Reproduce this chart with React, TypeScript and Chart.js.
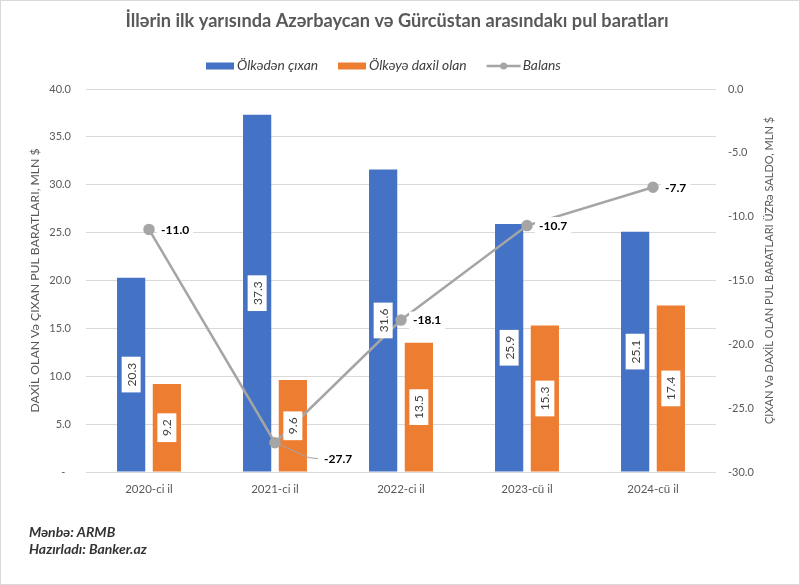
import { useEffect, useRef } from "react";
import { Chart, registerables } from "chart.js";

Chart.register(...registerables);

const categories = ["2020-ci il", "2021-ci il", "2022-ci il", "2023-cü il", "2024-cü il"];
const outgoing = [20.3, 37.3, 31.6, 25.9, 25.1];
const incoming = [9.2, 9.6, 13.5, 15.3, 17.4];
const balance = [-11.0, -27.7, -18.1, -10.7, -7.7];
const seriesNames = ["Ölkədən çıxan", "Ölkəyə daxil olan", "Balans"];

const TITLE = "İllərin ilk yarısında Azərbaycan və Gürcüstan arasındakı pul baratları";
const LEFT_AXIS_TITLE = "DAXİL OLAN Və ÇIXAN PUL BARATLARI, MLN $";
const RIGHT_AXIS_TITLE = "ÇIXAN Və DAXİL OLAN PUL BARATLARI ÜZRə SALDO, MLN $";
const SOURCE_LINES = ["Mənbə: ARMB", "Hazırladı: Banker.az"];

const BLUE = "#4472C4";
const ORANGE = "#ED7D31";
const GRAY = "#A5A5A5";
const TEXT = "#595959";
const FONT = "Lato, 'Open Sans', sans-serif";

const decor = {
  id: "decor",
  beforeDraw(chart: any) {
    const { ctx, width, height } = chart;
    ctx.save();
    ctx.fillStyle = "#ffffff";
    ctx.fillRect(0, 0, width, height);
    ctx.restore();
  },
  afterDatasetsDraw(chart: any) {
    const { ctx } = chart;
    // bar labels
    [0, 1].forEach((di) => {
      const meta = chart.getDatasetMeta(di);
      const data = chart.data.datasets[di].data;
      meta.data.forEach((el: any, i: number) => {
        const text = Number(data[i]).toFixed(1);
        const cx = el.x;
        const cy = (el.y + el.base) / 2;
        ctx.save();
        ctx.translate(cx, cy);
        ctx.rotate(-Math.PI / 2);
        ctx.font = `12px ${FONT}`;
        const w = ctx.measureText(text).width + 12;
        const h = 19;
        ctx.fillStyle = "#ffffff";
        ctx.fillRect(-w / 2, -h / 2, w, h);
        ctx.fillStyle = "#404040";
        ctx.textAlign = "center";
        ctx.textBaseline = "middle";
        ctx.fillText(text, 0, 0.5);
        ctx.restore();
      });
    });
    // line labels
    const lmeta = chart.getDatasetMeta(2);
    const ldata = chart.data.datasets[2].data;
    lmeta.data.forEach((el: any, i: number) => {
      const text = Number(ldata[i]).toFixed(1);
      let tx = el.x + 12;
      let ty = el.y + 0.5;
      ctx.save();
      if (i === 1) {
        tx = el.x + 49;
        ty = el.y + 16;
        ctx.strokeStyle = GRAY;
        ctx.lineWidth = 1;
        ctx.beginPath();
        ctx.moveTo(el.x, el.y);
        ctx.lineTo(el.x + 34, el.y + 15);
        ctx.lineTo(el.x + 43, el.y + 16);
        ctx.stroke();
      }
      ctx.font = `bold 12px ${FONT}`;
      const w = ctx.measureText(text).width;
      ctx.fillStyle = "#ffffff";
      ctx.fillRect(tx - 4, ty - 9, w + 8, 18);
      ctx.fillStyle = "#000000";
      ctx.textAlign = "left";
      ctx.textBaseline = "middle";
      ctx.fillText(text, tx, ty);
      ctx.restore();
    });
  },
  afterDraw(chart: any) {
    const { ctx, width, height, chartArea } = chart;
    ctx.save();
    // title
    ctx.fillStyle = TEXT;
    ctx.font = `bold 18.2px ${FONT}`;
    ctx.textAlign = "center";
    ctx.textBaseline = "middle";
    ctx.fillText(TITLE, 397, 21);

    // legend
    const ds = chart.data.datasets;
    ctx.font = `italic 13.8px ${FONT}`;
    ctx.textAlign = "left";
    const ly = 66;
    let x = 206;
    [0, 1].forEach((di) => {
      ctx.fillStyle = ds[di].backgroundColor;
      ctx.fillRect(x, ly - 3.5, 28, 7);
      x += 31;
      ctx.fillStyle = "#404040";
      ctx.fillText(ds[di].label, x, ly);
      x += ctx.measureText(ds[di].label).width + 20;
    });
    ctx.strokeStyle = GRAY;
    ctx.lineWidth = 2.5;
    ctx.beginPath();
    ctx.moveTo(x, ly);
    ctx.lineTo(x + 34, ly);
    ctx.stroke();
    ctx.fillStyle = GRAY;
    ctx.beginPath();
    ctx.arc(x + 17, ly, 3.5, 0, Math.PI * 2);
    ctx.fill();
    ctx.fillStyle = "#404040";
    ctx.fillText(ds[2].label, x + 36, ly);

    // axis titles
    ctx.fillStyle = TEXT;
    ctx.textAlign = "center";
    ctx.textBaseline = "middle";
    const midY = (chartArea.top + chartArea.bottom) / 2;
    ctx.save();
    ctx.font = `12.2px ${FONT}`;
    ctx.translate(35, midY);
    ctx.rotate(-Math.PI / 2);
    ctx.fillText(LEFT_AXIS_TITLE, 0, 0);
    ctx.restore();
    ctx.save();
    ctx.font = `11px ${FONT}`;
    ctx.translate(769, midY - 10);
    ctx.rotate(-Math.PI / 2);
    ctx.fillText(RIGHT_AXIS_TITLE, 0, 0);
    ctx.restore();

    // source
    ctx.fillStyle = "#333333";
    ctx.font = `italic bold 14px ${FONT}`;
    ctx.textAlign = "left";
    ctx.fillText(SOURCE_LINES[0], 29, 532);
    ctx.fillText(SOURCE_LINES[1], 29, 549);

    // border
    ctx.strokeStyle = "#d9d9d9";
    ctx.lineWidth = 1;
    ctx.strokeRect(0.5, 0.5, width - 1, height - 1);
    ctx.restore();
  },
};

export default function App() {
  const ref = useRef<HTMLCanvasElement>(null);
  useEffect(() => {
    document.body.style.margin = "0";
    const canvas = ref.current!;
    const chart = new Chart(canvas, {
      type: "bar",
      data: {
        labels: categories,
        datasets: [
          {
            type: "bar",
            label: seriesNames[0],
            data: outgoing,
            backgroundColor: BLUE,
            yAxisID: "y",
            order: 2,
            categoryPercentage: 0.567,
            barPercentage: 0.79,
          },
          {
            type: "bar",
            label: seriesNames[1],
            data: incoming,
            backgroundColor: ORANGE,
            yAxisID: "y",
            order: 2,
            categoryPercentage: 0.567,
            barPercentage: 0.79,
          },
          {
            type: "line",
            label: seriesNames[2],
            data: balance,
            borderColor: GRAY,
            backgroundColor: GRAY,
            borderWidth: 2.5,
            pointRadius: 4.5,
            pointBackgroundColor: GRAY,
            pointBorderColor: GRAY,
            yAxisID: "y1",
            order: 0,
            tension: 0,
          } as any,
        ],
      },
      options: {
        responsive: false,
        animation: false,
        devicePixelRatio: 1,
        layout: { padding: { top: 89, bottom: 83, left: 0, right: 0 } },
        plugins: {
          legend: { display: false },
          title: { display: false },
          tooltip: { enabled: false },
        },
        scales: {
          x: {
            grid: { display: false, drawTicks: false },
            border: { display: false },
            ticks: { color: TEXT, font: { family: FONT, size: 11.5 }, padding: 10 },
            afterFit: (s: any) => { s.height = 30; },
          },
          y: {
            position: "left",
            min: 0,
            max: 40,
            ticks: {
              stepSize: 5,
              color: TEXT,
              padding: 15,
              font: { family: FONT, size: 11 },
              callback: (v: any) => (Number(v) === 0 ? "-  " : Number(v).toFixed(1)),
            },
            grid: { color: "#d9d9d9", drawTicks: false, lineWidth: 1 },
            border: { display: false },
            afterFit: (s: any) => { s.width = 86; },
          },
          y1: {
            position: "right",
            min: -30,
            max: 0,
            ticks: {
              stepSize: 5,
              color: TEXT,
              padding: 12,
              font: { family: FONT, size: 11 },
              callback: (v: any) => Number(v).toFixed(1),
            },
            grid: { display: false, drawTicks: false },
            border: { display: false },
            afterFit: (s: any) => { s.width = 84; },
          },
        },
      },
      plugins: [decor],
    });
    return () => chart.destroy();
  }, []);
  return (
    <div style={{ width: 800, height: 585 }}>
      <canvas ref={ref} width={800} height={585} />
    </div>
  );
}
